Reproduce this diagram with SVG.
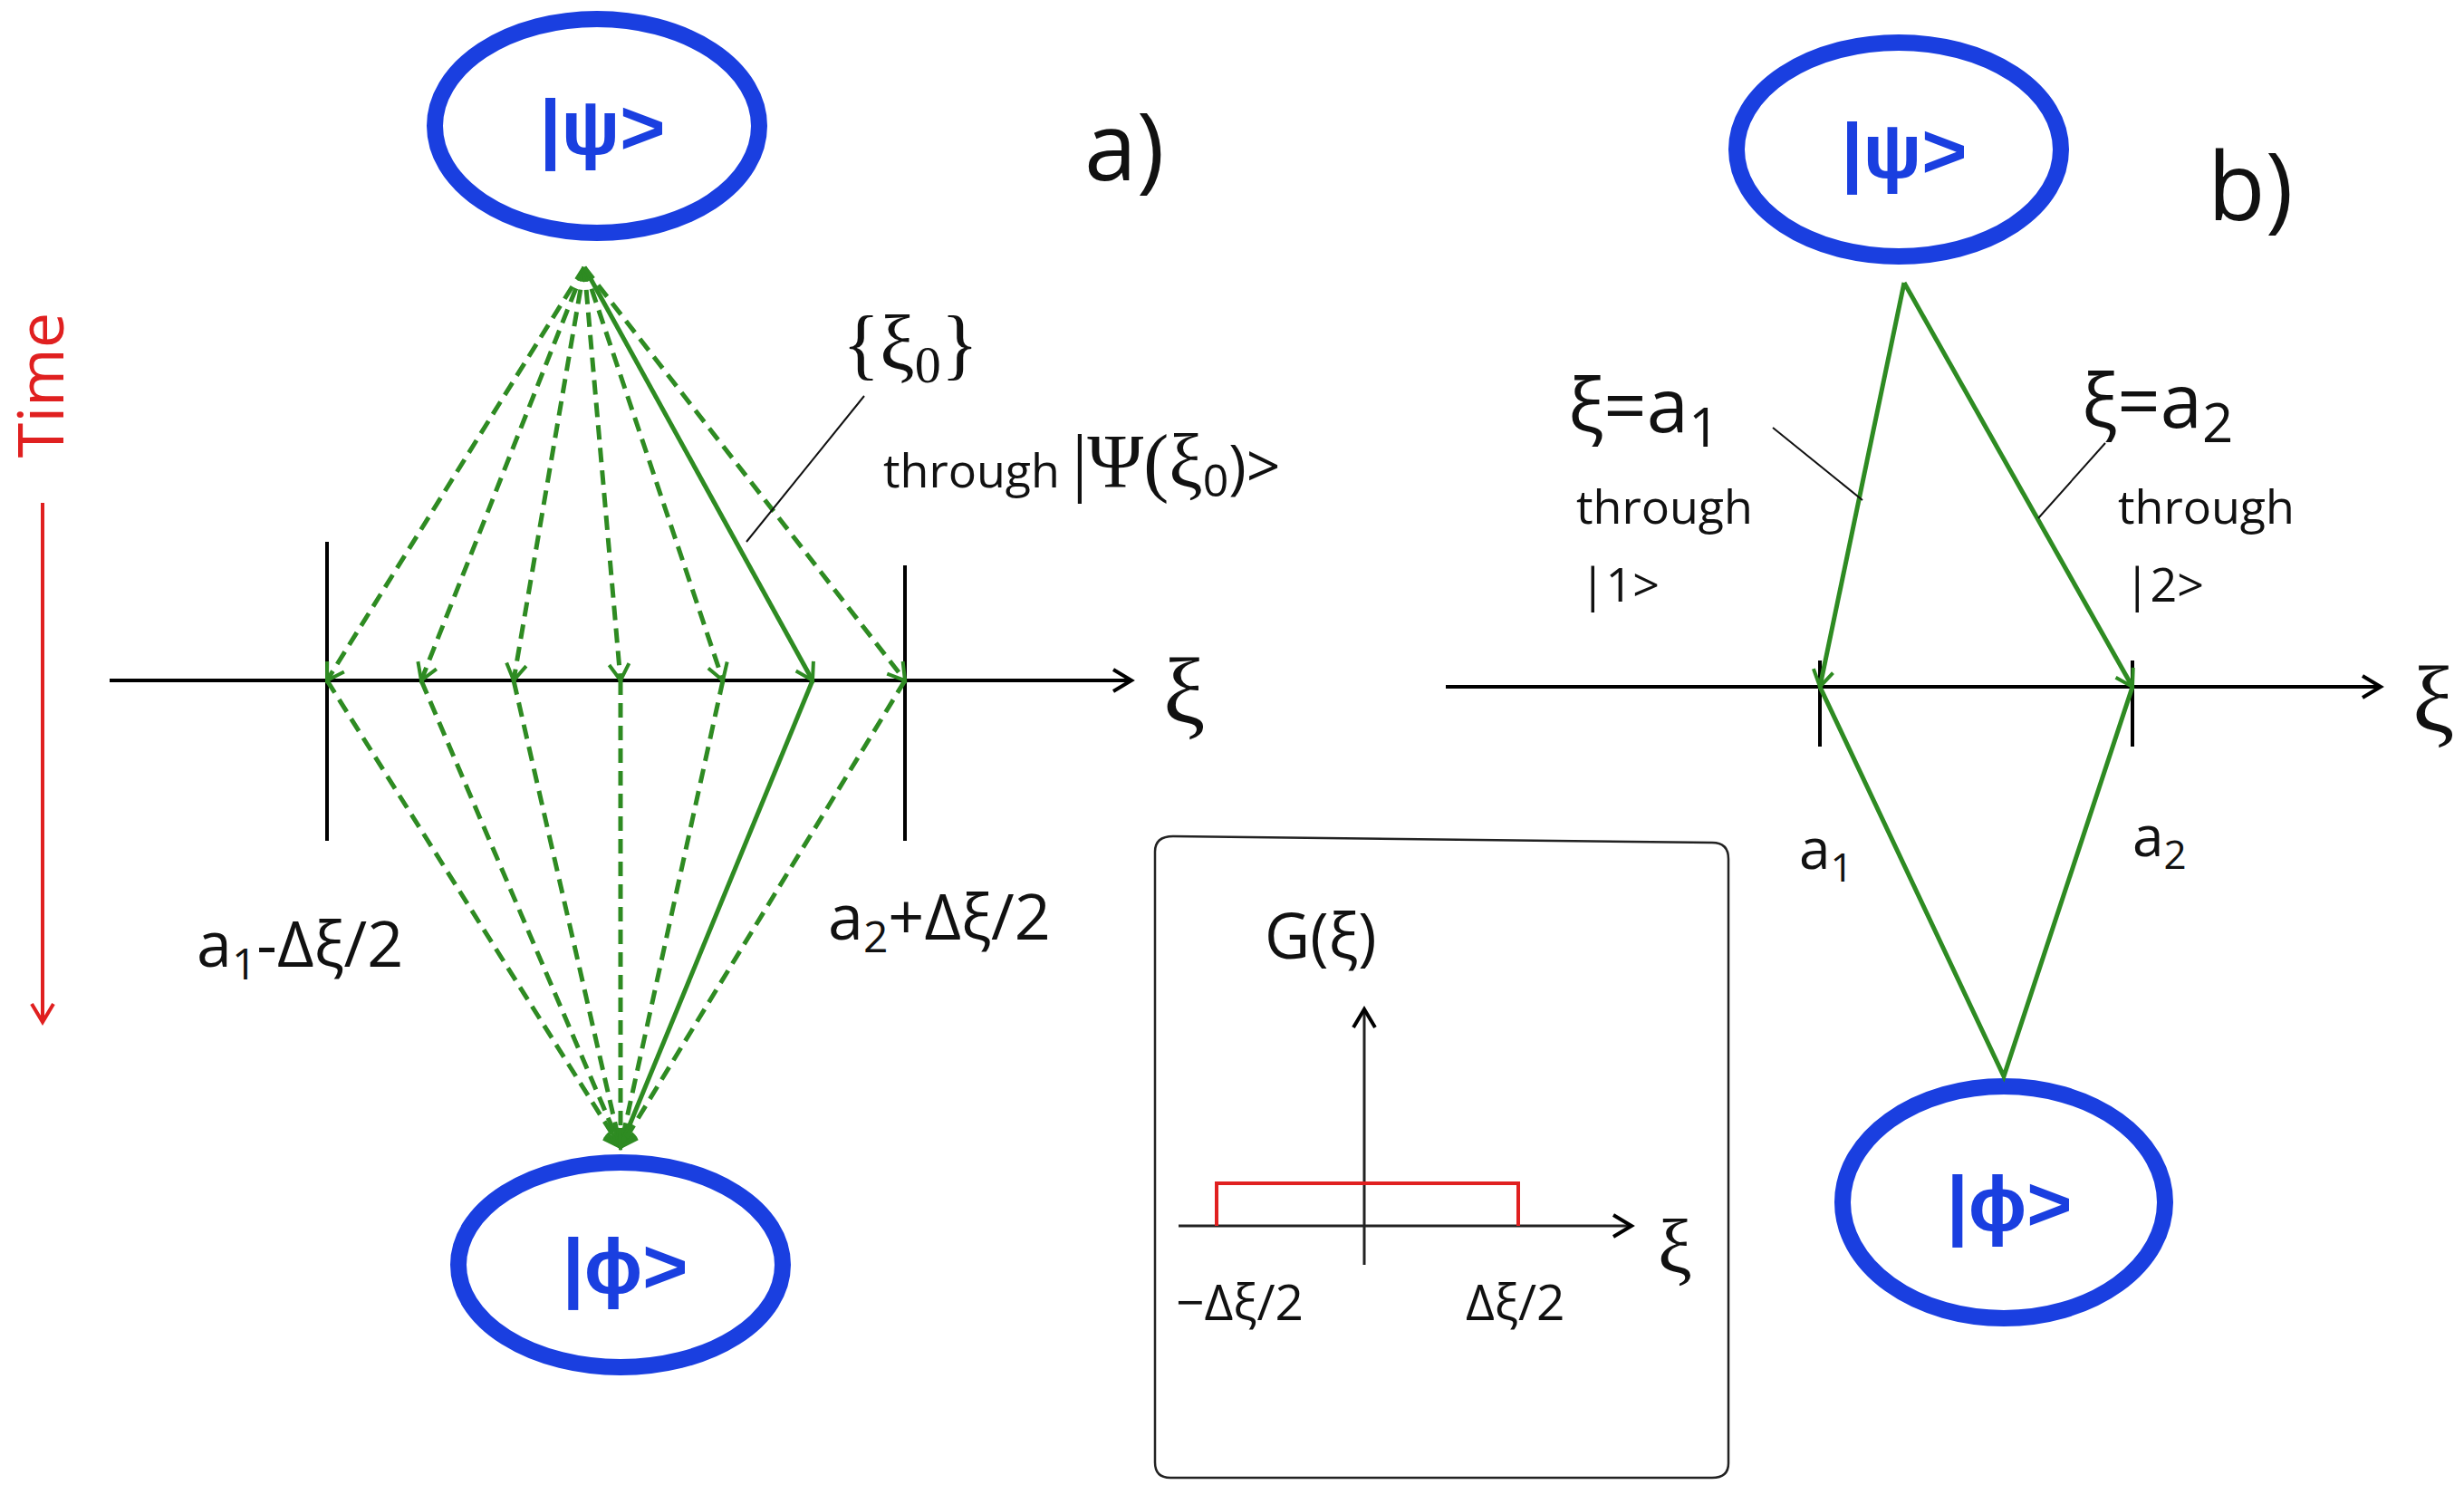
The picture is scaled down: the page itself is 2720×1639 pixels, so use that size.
<svg xmlns="http://www.w3.org/2000/svg" width="2720" height="1639" viewBox="0 0 2720 1639">
<style>
.ell{fill:none;stroke:#1a3fe0;stroke-width:18}
.ket{font-family:"Liberation Sans",sans-serif;font-size:86px;fill:#1a3fe0;text-anchor:middle;font-weight:bold}
.g{stroke:#2e8b22;stroke-width:5;fill:none}
.d{stroke-dasharray:16 9}
.k{stroke:#000;stroke-width:4;fill:none}
.t{font-family:"Open Sans","Liberation Sans",sans-serif;fill:#111}
.s{font-family:"Liberation Serif",serif;fill:#111}
</style>
<defs>
<marker id="ga" refX="0" refY="0" markerWidth="40" markerHeight="40" orient="auto" markerUnits="userSpaceOnUse" style="overflow:visible"><path d="M-18,-11 L0,0 L-18,11" fill="none" stroke="#2e8b22" stroke-width="4"/></marker>
<marker id="ka" refX="0" refY="0" markerWidth="40" markerHeight="40" orient="auto" markerUnits="userSpaceOnUse" style="overflow:visible"><path d="M-20,-12 L0,0 L-20,12" fill="none" stroke="#000" stroke-width="4"/></marker>
<marker id="ra" refX="0" refY="0" markerWidth="40" markerHeight="40" orient="auto" markerUnits="userSpaceOnUse" style="overflow:visible"><path d="M-20,-12 L0,0 L-20,12" fill="none" stroke="#e02020" stroke-width="4"/></marker>
</defs>
<rect width="2720" height="1639" fill="#fff"/>
<g id="nodeA_psi"><ellipse class="ell" cx="659" cy="139" rx="179" ry="118"/><text class="ket" x="665" y="170">|ψ&gt;</text></g>
<g id="nodeA_phi"><ellipse class="ell" cx="685" cy="1396" rx="179" ry="113"/><text class="ket" x="690" y="1427">|ϕ&gt;</text></g>
<g id="nodeB_psi"><ellipse class="ell" cx="2096" cy="165" rx="179" ry="118"/><text class="ket" x="2102" y="196">|ψ&gt;</text></g>
<g id="nodeB_phi"><ellipse class="ell" cx="2212" cy="1327" rx="178" ry="128"/><text class="ket" x="2218" y="1358">|ϕ&gt;</text></g>
<g id="axes">
<line class="k" x1="121" y1="751" x2="1249" y2="751" marker-end="url(#ka)"/>
<line class="k" x1="361" y1="598" x2="361" y2="928"/>
<line class="k" x1="999" y1="624" x2="999" y2="928"/>
<line class="k" x1="1596" y1="758" x2="2628" y2="758" marker-end="url(#ka)"/>
<line class="k" x1="2009" y1="729" x2="2009" y2="824"/>
<line class="k" x1="2354" y1="729" x2="2354" y2="824"/>
<line stroke="#e02020" stroke-width="4" x1="47" y1="555" x2="47" y2="1128" marker-end="url(#ra)"/>
</g>
<g id="connectors">
<path class="g d" d="M645,295 L361,751" marker-end="url(#ga)"/>
<path class="g d" d="M645,295 L465,751" marker-end="url(#ga)"/>
<path class="g d" d="M645,295 L567,751" marker-end="url(#ga)"/>
<path class="g d" d="M645,295 L685,751" marker-end="url(#ga)"/>
<path class="g d" d="M645,295 L798,751" marker-end="url(#ga)"/>
<path class="g" d="M645,295 L897,751" marker-end="url(#ga)"/>
<path class="g d" d="M645,295 L999,751" marker-end="url(#ga)"/>
<path class="g d" d="M361,751 L685,1266" marker-end="url(#ga)"/>
<path class="g d" d="M465,751 L685,1266" marker-end="url(#ga)"/>
<path class="g d" d="M567,751 L685,1266" marker-end="url(#ga)"/>
<path class="g d" d="M685,751 L685,1266" marker-end="url(#ga)"/>
<path class="g d" d="M798,751 L685,1266" marker-end="url(#ga)"/>
<path class="g" d="M897,751 L685,1266" marker-end="url(#ga)"/>
<path class="g d" d="M999,751 L685,1266" marker-end="url(#ga)"/>
<path class="g" d="M2102,312 L2009,758" marker-end="url(#ga)"/>
<path class="g" d="M2102,312 L2354,758" marker-end="url(#ga)"/>
<path class="g" d="M2009,758 L2212,1188 L2354,758"/>
<line stroke="#111" stroke-width="2" x1="954" y1="437" x2="824" y2="598"/>
<line stroke="#111" stroke-width="2" x1="1957" y1="472" x2="2056" y2="552"/>
<line stroke="#111" stroke-width="2" x1="2324" y1="489" x2="2250" y2="572"/>
</g>
<g id="labels">
<text class="t" x="1197" y="199" font-size="104">a)</text>
<text class="t" x="2437" y="243" font-size="104">b)</text>
<text class="t" style="fill:#e02020" font-size="70" text-anchor="middle" transform="translate(70,425) rotate(-90)">Time</text>
<text class="s" x="930" y="408" font-size="86">{ξ<tspan font-size="58" dy="14">0</tspan><tspan dy="-14">}</tspan></text>
<text class="t" x="975" y="538" font-size="52">through <tspan font-family="Liberation Serif,serif" font-size="84">|Ψ(ξ</tspan><tspan font-size="50" dy="10">0</tspan><tspan font-size="66" dy="-10">)&gt;</tspan></text>
<text class="t" x="217" y="1067" font-size="70">a<tspan font-size="48" dy="14">1</tspan><tspan dy="-14">-Δξ/2</tspan></text>
<text class="t" x="914" y="1037" font-size="70">a<tspan font-size="48" dy="14">2</tspan><tspan dy="-14">+Δξ/2</tspan></text>
<text class="s" x="1284" y="798" font-size="104">ξ</text>
<text class="t" x="1731" y="477" font-size="83">ξ=a<tspan font-size="60" dy="16">1</tspan></text>
<text class="t" x="2298" y="472" font-size="83">ξ=a<tspan font-size="60" dy="16">2</tspan></text>
<text class="t" x="1740" y="578" font-size="52">through</text>
<text class="t" x="1744" y="664" font-size="52">|1&gt;</text>
<text class="t" x="2338" y="578" font-size="52">through</text>
<text class="t" x="2345" y="664" font-size="52">|2&gt;</text>
<text class="t" x="1986" y="959" font-size="62">a<tspan font-size="44" dy="14">1</tspan></text>
<text class="t" x="2354" y="945" font-size="62">a<tspan font-size="44" dy="14">2</tspan></text>
<text class="s" x="2663" y="807" font-size="104">ξ</text>
</g>
<g id="inset">
<path d="M1275,940 Q1275,923 1295,923 L1890,930 Q1908,930 1908,948 L1908,1615 Q1908,1631 1890,1631 L1292,1631 Q1275,1631 1275,1614 Z" fill="none" stroke="#222" stroke-width="2.5"/>
<line stroke="#222" stroke-width="3" x1="1301" y1="1353" x2="1801" y2="1353" marker-end="url(#ka)"/>
<line stroke="#222" stroke-width="3" x1="1506" y1="1396" x2="1506" y2="1114" marker-end="url(#ka)"/>
<path d="M1343,1353 L1343,1306 L1676,1306 L1676,1353" fill="none" stroke="#e02020" stroke-width="4"/>
<text class="t" x="1396" y="1058" font-size="69">G(ξ)</text>
<text class="t" x="1298" y="1457" font-size="55">−Δξ/2</text>
<text class="t" x="1618" y="1457" font-size="55">Δξ/2</text>
<text class="s" x="1830" y="1405" font-size="85">ξ</text>
</g>
</svg>
